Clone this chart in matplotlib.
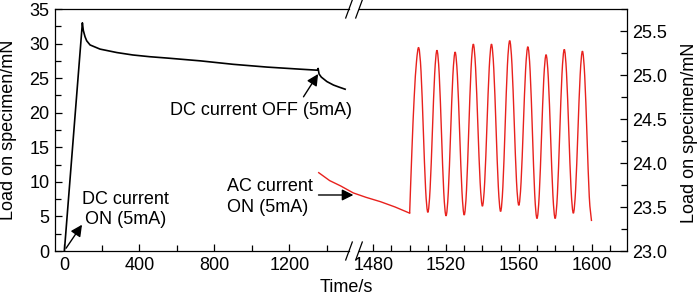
import numpy as np
import matplotlib
matplotlib.use('Agg')
import matplotlib.pyplot as plt
from matplotlib.path import Path
from matplotlib.patches import PathPatch
from matplotlib.ticker import MultipleLocator, FixedLocator, FormatStrFormatter

plt.rcParams['font.family'] = ['Liberation Sans', 'DejaVu Sans']
plt.rcParams['font.size'] = 13

# DC current run, left axis (time in s, load in mN)
dc_time = [0, 96, 101, 110, 119, 137, 190, 280, 365, 455, 550, 725, 900, 1080,
           1255, 1348, 1353, 1358, 1370, 1400, 1435, 1465, 1497]
dc_load = [0, 33.0, 31.9, 31.0, 30.4, 29.8, 29.2, 28.7, 28.35, 28.1, 27.9, 27.5,
           27.0, 26.6, 26.3, 26.15, 26.4, 25.6, 25.15, 24.5, 24.0, 23.7, 23.4]

# AC current run, right axis
ac_pre_time = [1450, 1456, 1462, 1469, 1476, 1484, 1492, 1500]
ac_pre_load = [23.89, 23.80, 23.74, 23.66, 23.61, 23.56, 23.50, 23.43]

ac_time = np.arange(1500, 1600.01, 1.25)
ac_load = [23.43, 24.15, 24.75, 25.15, 25.31,
           25.04, 24.38, 23.71, 23.44, 23.71, 24.36, 25.01, 25.28,
           25.01, 24.34, 23.67, 23.40, 23.67, 24.33, 24.99, 25.26,
           24.99, 24.34, 23.68, 23.41, 23.69, 24.38, 25.07, 25.35,
           25.08, 24.43, 23.78, 23.51, 23.78, 24.43, 25.08, 25.35,
           25.07, 24.40, 23.73, 23.45, 23.73, 24.42, 25.11, 25.39,
           25.12, 24.46, 23.79, 23.52, 23.78, 24.42, 25.06, 25.32,
           25.04, 24.35, 23.65, 23.37, 23.64, 24.30, 24.96, 25.23,
           24.96, 24.30, 23.64, 23.37, 23.65, 24.33, 25.01, 25.29,
           25.02, 24.36, 23.70, 23.43, 23.70, 24.35, 25.00, 25.27,
           24.99, 24.31, 23.62, 23.34]

left_ticks = [0, 400, 800, 1200]
right_ticks = [1480, 1520, 1560, 1600]


def smooth_path(x, y):
    # catmull-rom through the points, as cubic bezier segments
    x = np.asarray(x, float)
    y = np.asarray(y, float)
    verts = [(x[0], y[0])]
    codes = [Path.MOVETO]
    n = len(x)
    for i in range(n - 1):
        i0 = max(i - 1, 0)
        i3 = min(i + 2, n - 1)
        c1 = (x[i] + (x[i + 1] - x[i0]) / 6, y[i] + (y[i + 1] - y[i0]) / 6)
        c2 = (x[i + 1] - (x[i3] - x[i]) / 6, y[i + 1] - (y[i3] - y[i]) / 6)
        verts += [c1, c2, (x[i + 1], y[i + 1])]
        codes += [Path.CURVE4] * 3
    return Path(verts, codes)


fig = plt.figure(figsize=(7, 2.95), dpi=100)
rect = [55 / 700, 44 / 295, 572 / 700, 242 / 295]
ax1 = fig.add_axes(rect)
ax2 = fig.add_axes(rect)
ax2.patch.set_visible(False)

red = '#e8211d'
ax1.plot(dc_time, dc_load, color='black', lw=1.2)
ax2.plot(ac_pre_time, ac_pre_load, color=red, lw=1.0)
ax2.add_patch(PathPatch(smooth_path(ac_time, ac_load), facecolor='none',
                        edgecolor=red, lw=1.0))

ax1.set_xlim(-50, 3000)
ax1.set_ylim(0, 35)
ax2.set_xlim(1305, 1619.5)
ax2.set_ylim(23, 25.75)

# broken time axis
brk1 = 1518
brk2 = 1472
for s in ('top', 'bottom'):
    ax1.spines[s].set_bounds(-50, brk1)
    ax2.spines[s].set_bounds(brk2, 1619.5)
ax1.spines['right'].set_visible(False)
ax2.spines['left'].set_visible(False)
for ax in (ax1, ax2):
    for sp in ax.spines.values():
        sp.set_linewidth(0.9)

ax1.set_xticks(left_ticks)
ax1.xaxis.set_minor_locator(FixedLocator([200, 600, 1000, 1400]))
ax1.yaxis.set_major_locator(MultipleLocator(5))
ax1.yaxis.set_minor_locator(MultipleLocator(2.5))
ax1.tick_params(which='both', direction='in', top=False, right=False, width=0.9)
ax1.tick_params(which='major', length=5, pad=4)
ax1.tick_params(which='minor', length=4)

ax2.set_xticks(right_ticks)
ax2.xaxis.set_minor_locator(FixedLocator([1490, 1500, 1510, 1530, 1540, 1550,
                                          1570, 1580, 1590, 1610]))
ax2.yaxis.tick_right()
ax2.yaxis.set_major_locator(MultipleLocator(0.5))
ax2.yaxis.set_minor_locator(MultipleLocator(0.25))
ax2.yaxis.set_major_formatter(FormatStrFormatter('%.1f'))
ax2.tick_params(which='both', direction='in', left=False, top=False, width=0.9)
ax2.tick_params(which='major', length=5, pad=4)
ax2.tick_params(which='minor', length=4)

# break marks
d = 3.3 / 572
dy = 9 / 242
for xb in ((349 - 55) / 572, (359 - 55) / 572):
    for yb in (0, 1):
        ax1.plot([xb - d, xb + d], [yb - dy, yb + dy], transform=ax1.transAxes,
                 color='black', lw=0.9, clip_on=False)

arrow = dict(arrowstyle='-|>', color='black', lw=1.0, mutation_scale=17,
             shrinkA=0, shrinkB=0)
ax1.annotate('', xy=(94, 3.8), xytext=(9, 0.4), arrowprops=arrow)
ax1.text(326, 6.0, 'DC current\nON (5mA)', ha='center', va='center',
         multialignment='center', linespacing=1.3)
ax1.annotate('', xy=(1353, 25.6), xytext=(1275, 22.3), arrowprops=arrow)
ax1.text(1048, 20.25, 'DC current OFF (5mA)', ha='center', va='center')
ax1.annotate('', xy=(1541, 8.1), xytext=(1355, 8.1), arrowprops=arrow,
             annotation_clip=False)
ax1.text(866, 7.8, 'AC current\nON (5mA)', ha='left', va='center',
         multialignment='left', linespacing=1.25)

fig.text(9 / 700, 1 - 130 / 295, 'Load on specimen/mN', rotation=90,
         ha='center', va='center')
fig.text(690 / 700, 1 - 133 / 295, 'Load on specimen/mN', rotation=90,
         ha='center', va='center')
fig.text(346 / 700, 1 - 287 / 295, 'Time/s', ha='center', va='center')

fig.savefig('out.png', dpi=100)
